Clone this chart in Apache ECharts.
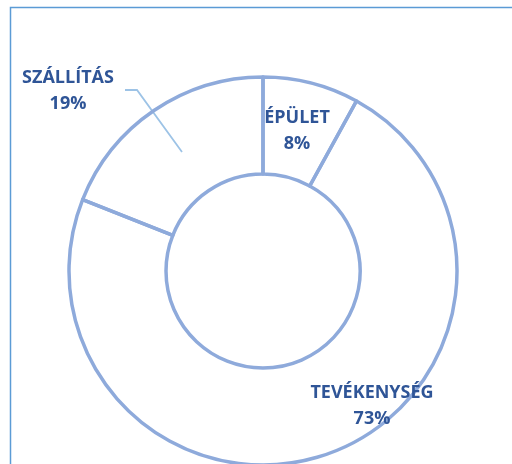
<!DOCTYPE html>
<html>
<head>
<meta charset="utf-8">
<script src="https://cdn.jsdelivr.net/npm/echarts@6/dist/echarts.min.js"></script>
<style>
  html, body { margin: 0; padding: 0; background: #fff; }
  #chart { width: 512px; height: 464px; }
</style>
</head>
<body>
<div id="chart"></div>
<script>
// slices, clockwise from 12 o'clock
const categories = ['ÉPÜLET', 'TEVÉKENYSÉG', 'SZÁLLÍTÁS']
const shares = [8, 73, 19]

const chart = echarts.init(document.getElementById('chart'))

const ringColor = '#8eaadb'
const textColor = '#2f5597'

chart.setOption({
  animation: false,
  graphic: [{
    type: 'rect',
    shape: { x: 10.5, y: 7.5, width: 520, height: 480 },
    style: { fill: 'none', stroke: '#5b9bd5', lineWidth: 1.5 }
  }],
  series: [{
    type: 'pie',
    center: [263, 271],
    radius: [97, 194],
    startAngle: 90,
    clockwise: true,
    // transparent fill so the leader line shows through the ring
    itemStyle: {
      color: 'rgba(255,255,255,0)',
      borderColor: ringColor,
      borderWidth: 3.5
    },
    emphasis: { disabled: true },
    label: {
      show: true,
      position: 'outside',
      formatter: '{b}\n{d}%',
      color: textColor,
      fontFamily: 'Open Sans',
      fontWeight: 'bold',
      fontSize: 18,
      lineHeight: 26,
      align: 'center'
    },
    labelLine: {
      show: true,
      lineStyle: { color: '#9dc3e6', width: 1.8 }
    },
    labelLayout: function (params) {
      if (params.dataIndex === 0) {
        return { x: 297, y: 131, align: 'center', verticalAlign: 'middle' }
      }
      if (params.dataIndex === 1) {
        return { x: 372, y: 406, align: 'center', verticalAlign: 'middle' }
      }
      return {
        x: 68, y: 91, align: 'center', verticalAlign: 'middle',
        labelLinePoints: [[182, 152], [137, 90], [125, 90]]
      }
    },
    data: categories.map((name, i) => ({
      name: name,
      value: shares[i],
      labelLine: { show: i === 2 }
    }))
  }]
})
</script>
</body>
</html>
